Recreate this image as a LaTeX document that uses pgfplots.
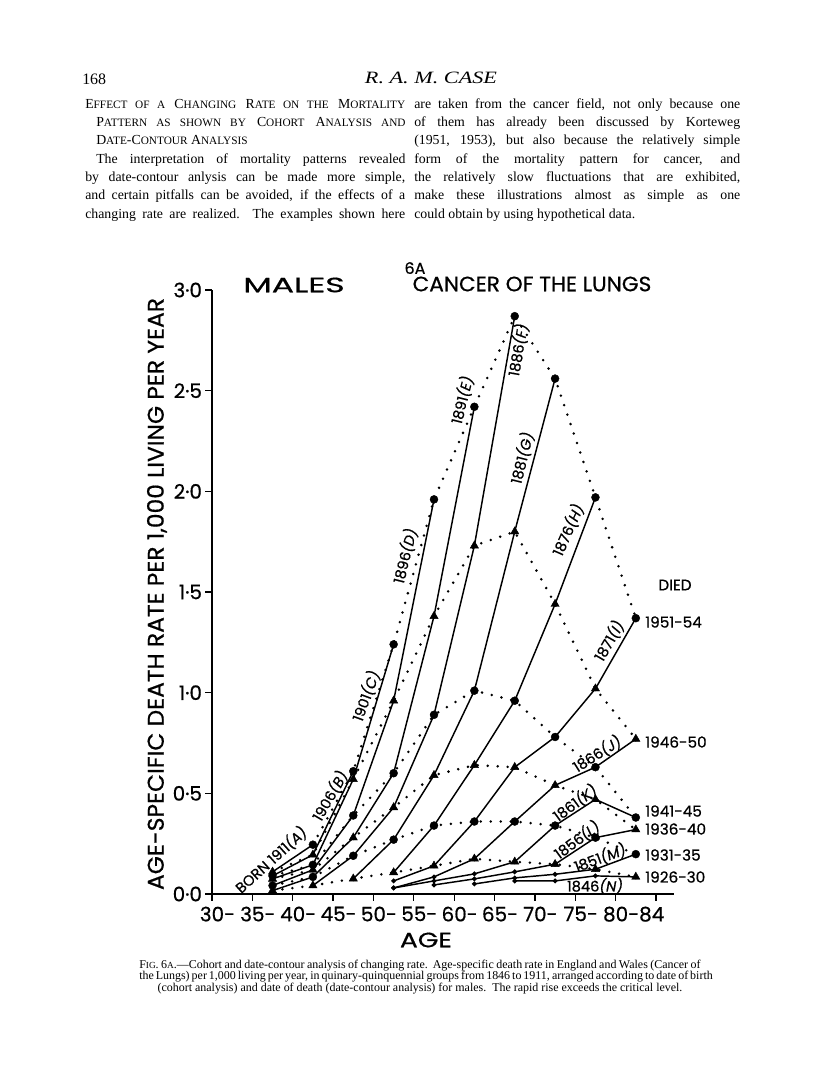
\documentclass[border=0pt]{standalone}
\usepackage{pgfplots}
\pgfplotsset{compat=1.18}
\usepackage{fontspec}
\usepackage{graphicx}
\setmainfont{Liberation Serif}
\newfontfamily\chartfont{Poppins}[FakeBold=0.6]
\newcommand{\sm}[1]{{\fontsize{8.5}{9}\selectfont #1}}
\newcommand{\smc}[1]{{\fontsize{7}{8}\selectfont #1}}
\newcommand{\lbl}{\chartfont\fontsize{11}{11}\selectfont}
\newcommand{\dlbl}{\chartfont\fontsize{11.5}{12}\selectfont}
\pgfplotsset{
  cohort/.style={black, line width=1.1bp, mark=*, mark size=1.2bp, mark options={solid}},
  datec/.style={black, line width=2.1bp, line cap=round, dash pattern=on 0bp off 7.5bp},
  circ/.style={datec, mark=*, mark size=3bp, mark options={solid, line width=0.3bp, fill=black}},
  tri/.style={datec, mark=triangle*, mark size=3.6bp, mark options={solid, line width=0.3bp, fill=black}},
}
\begin{document}
\begin{tikzpicture}
\path[use as bounding box] (0,0) rectangle (612bp,-817.5bp);
\begin{axis}[
  at={(159bp,-670.5bp)}, anchor=south west,
  scale only axis, width=346.5bp, height=453bp,
  xmin=30, xmax=87.23, ymin=0, ymax=3,
  axis lines=left, axis line style={-, line width=1.1bp},
  tick align=outside, major tick length=5bp,
  tick style={line width=1bp, black},
  xtick={30,35,40,45,50,55,60,65,70,75,80,85},
  xticklabels={30\rlap{-},35\rlap{-},40\rlap{-},45\rlap{-},50\rlap{-},55\rlap{-},60\rlap{-},65\rlap{-},70\rlap{-},75\rlap{-},80\rlap{-84},{}},
  ytick={0,0.5,1,1.5,2,2.5,3},
  yticklabels={0·0,0·5,1·0,1·5,2·0,2·5,3·0},
  ticklabel style={font=\chartfont\fontsize{15}{15}\selectfont},
  xticklabel style={yshift=-1bp},
  yticklabel style={xshift=1bp},
  clip=false,
]
% cohorts (solid)
\addplot[cohort] coordinates {(37.5,0.11)(42.5,0.245)};
\addplot[cohort] coordinates {(37.5,0.09)(42.5,0.195)(47.5,0.61)};
\addplot[cohort] coordinates {(37.5,0.075)(42.5,0.145)(47.5,0.57)(52.5,1.24)};
\addplot[cohort] coordinates {(37.5,0.042)(42.5,0.12)(47.5,0.39)(52.5,0.96)(57.5,1.96)};
\addplot[cohort] coordinates {(37.5,0.017)(42.5,0.085)(47.5,0.28)(52.5,0.60)(57.5,1.38)(62.5,2.42)};
\addplot[cohort] coordinates {(42.5,0.042)(47.5,0.19)(52.5,0.43)(57.5,0.89)(62.5,1.73)(67.5,2.87)};
\addplot[cohort] coordinates {(47.5,0.076)(52.5,0.27)(57.5,0.59)(62.5,1.01)(67.5,1.80)(72.5,2.56)};
\addplot[cohort] coordinates {(52.5,0.107)(57.5,0.34)(62.5,0.64)(67.5,0.96)(72.5,1.44)(77.5,1.97)};
\addplot[cohort] coordinates {(52.5,0.065)(57.5,0.14)(62.5,0.36)(67.5,0.63)(72.5,0.78)(77.5,1.02)(82.5,1.37)};
\addplot[cohort] coordinates {(52.5,0.03)(57.5,0.085)(62.5,0.175)(67.5,0.36)(72.5,0.54)(77.5,0.63)(82.5,0.77)};
\addplot[cohort] coordinates {(52.5,0.03)(57.5,0.065)(62.5,0.10)(67.5,0.16)(72.5,0.34)(77.5,0.47)(82.5,0.38)};
\addplot[cohort] coordinates {(57.5,0.045)(62.5,0.075)(67.5,0.11)(72.5,0.148)(77.5,0.28)(82.5,0.32)};
\addplot[cohort] coordinates {(62.5,0.05)(67.5,0.08)(72.5,0.098)(77.5,0.123)(82.5,0.198)};
\addplot[cohort] coordinates {(67.5,0.065)(72.5,0.065)(77.5,0.09)(82.5,0.085)};
% date contours (dotted)
\addplot[circ] coordinates {(42.5,0.245)(47.5,0.61)(52.5,1.24)(57.5,1.96)(62.5,2.42)(67.5,2.87)(72.5,2.56)(77.5,1.97)(82.5,1.37)};
\addplot[tri] coordinates {(37.5,0.11)(42.5,0.195)(47.5,0.57)(52.5,0.96)(57.5,1.38)(62.5,1.73)(67.5,1.80)(72.5,1.44)(77.5,1.02)(82.5,0.77)};
\addplot[circ] coordinates {(37.5,0.09)(42.5,0.145)(47.5,0.39)(52.5,0.60)(57.5,0.89)(62.5,1.01)(67.5,0.96)(72.5,0.78)(77.5,0.63)(82.5,0.38)};
\addplot[tri] coordinates {(37.5,0.075)(42.5,0.12)(47.5,0.28)(52.5,0.43)(57.5,0.59)(62.5,0.64)(67.5,0.63)(72.5,0.54)(77.5,0.47)(82.5,0.32)};
\addplot[circ] coordinates {(37.5,0.042)(42.5,0.085)(47.5,0.19)(52.5,0.27)(57.5,0.34)(62.5,0.36)(67.5,0.36)(72.5,0.34)(77.5,0.28)(82.5,0.198)};
\addplot[tri] coordinates {(37.5,0.017)(42.5,0.042)(47.5,0.076)(52.5,0.107)(57.5,0.14)(62.5,0.175)(67.5,0.16)(72.5,0.148)(77.5,0.123)(82.5,0.085)};
\end{axis}
\begin{scope}[x=0.75bp,y=-0.75bp]
% page header
\node[anchor=base west, inner sep=0, font=\fontsize{12}{14}\selectfont] at (82,84) {168};
\node[anchor=base, inner sep=0] at (431,84) {\resizebox{99bp}{8.6bp}{\itshape R.\ A.\ M.\ CASE}};
% body text
\begin{scope}[every node/.style={anchor=base west, inner sep=0, font=\fontsize{10.4}{12}\selectfont}]
\node at (85,108) {\makebox[240bp][s]{E\sm{FFECT OF A} C\sm{HANGING} R\sm{ATE ON THE} M\sm{ORTALITY}}};
\node at (96,126.3) {\makebox[232bp][s]{P\sm{ATTERN AS SHOWN BY} C\sm{OHORT} A\sm{NALYSIS AND}}};
\node at (96,144.6) {D\sm{ATE}-C\sm{ONTOUR} A\sm{NALYSIS}};
\node at (96,163) {\makebox[232bp][s]{The interpretation of mortality patterns revealed}};
\node at (85,181.3) {\makebox[240bp][s]{by date-contour anlysis can be made more simple,}};
\node at (85,199.6) {\makebox[240bp][s]{and certain pitfalls can be avoided, if the effects of a}};
\node at (85,218) {\makebox[240bp][s]{changing rate are realized.\ \ The examples shown here}};
\node at (414,108) {\makebox[244.5bp][s]{are taken from the cancer field, not only because one}};
\node at (414,126.3) {\makebox[244.5bp][s]{of them has already been discussed by Korteweg}};
\node at (414,144.6) {\makebox[244.5bp][s]{(1951, 1953), but also because the relatively simple}};
\node at (414,163) {\makebox[244.5bp][s]{form of the mortality pattern for cancer, and}};
\node at (414,181.3) {\makebox[244.5bp][s]{the relatively slow fluctuations that are exhibited,}};
\node at (414,199.6) {\makebox[244.5bp][s]{make these illustrations almost as simple as one}};
\node at (414,218) {could obtain by using hypothetical data.};
\end{scope}
% figure titles
\node[font=\chartfont\fontsize{12}{12}\selectfont] at (415,268) {6A};
\node at (294,285) {\chartfont\resizebox{76bp}{11bp}{MALES}};
\node at (532,284) {\chartfont\resizebox{179bp}{11bp}{CANCER OF THE LUNGS}};
\node[rotate=90] at (157,594) {\chartfont\resizebox{444bp}{12.5bp}{AGE-SPECIFIC DEATH RATE PER 1,000 LIVING PER YEAR}};
\node at (426,940) {\chartfont\resizebox{39bp}{11bp}{AGE}};
% cohort labels
\node[rotate=80, font=\lbl] at (518,350) {1886\textit{(F)}};
\node[rotate=76, font=\lbl] at (462,400) {1891\textit{(E)}};
\node[rotate=76, font=\lbl] at (405,556) {1896\textit{(D)}};
\node[rotate=70, font=\lbl] at (366,696) {1901\textit{(C)}};
\node[rotate=60, font=\lbl] at (330,796) {1906\textit{(B)}};
\node[rotate=42, font=\lbl] at (271,860) {BORN 1911\textit{(A)}};
\node[rotate=76, font=\lbl] at (522,458) {1881\textit{(G)}};
\node[rotate=66, font=\lbl] at (568,530) {1876\textit{(H)}};
\node[rotate=60, font=\lbl] at (609,641) {1871\textit{(I)}};
\node[rotate=32, font=\lbl] at (597,754) {1866\textit{(J)}};
\node[rotate=36, font=\lbl] at (575,803) {1861\textit{(K)}};
\node[rotate=36, font=\lbl] at (577,840) {1856\textit{(L)}};
\node[rotate=20, font=\lbl] at (600,858) {1851\textit{(M)}};
\node[font=\lbl] at (595,886) {1846\textit{(N)}};
% date labels
\node[font=\dlbl] at (675,585) {DIED};
\begin{scope}[every node/.style={anchor=west, inner sep=0, font=\dlbl}]
\node at (645,622) {1951-54};
\node at (645,742) {1946-50};
\node at (645,811) {1941-45};
\node at (645,829) {1936-40};
\node at (645,855) {1931-35};
\node at (645,877) {1926-30};
\end{scope}
% caption
\begin{scope}[every node/.style={anchor=base west, inner sep=0, font=\fontsize{9}{9}\selectfont}]
\node at (139,968) {\makebox[421bp][s]{F\smc{IG}. 6\smc{A}.---Cohort and date-contour analysis of changing rate.\ \ Age-specific death rate in England and Wales (Cancer of}};
\node at (139,979.5) {\makebox[421bp][s]{the Lungs) per 1,000 living per year, in quinary-quinquennial groups from 1846 to 1911, arranged according to date of birth}};
\node[anchor=base] at (420,991) {(cohort analysis) and date of death (date-contour analysis) for males.\ \ The rapid rise exceeds the critical level.};
\end{scope}
\end{scope}
\end{tikzpicture}
\end{document}
